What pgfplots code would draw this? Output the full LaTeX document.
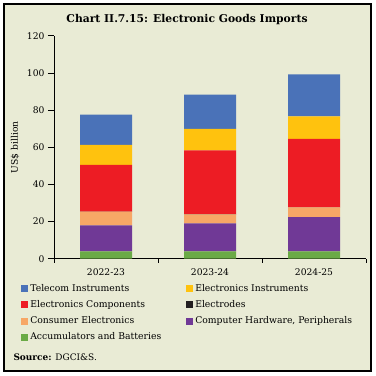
\documentclass[border=0pt]{standalone}
\usepackage{pgfplots}
\pgfplotsset{compat=1.18}
\usepackage{fontspec}
\setmainfont{DejaVu Serif}
\definecolor{bg}{RGB}{233,235,213}
\definecolor{cTel}{RGB}{74,114,184}
\definecolor{cIns}{RGB}{255,194,14}
\definecolor{cCom}{RGB}{237,28,36}
\definecolor{cEle}{RGB}{35,31,32}
\definecolor{cCon}{RGB}{247,167,102}
\definecolor{cHw}{RGB}{112,57,150}
\definecolor{cAcc}{RGB}{106,170,70}
\begin{document}
\begin{tikzpicture}[x=1bp,y=1bp]
\fill[white] (0,0) rectangle (376,376);
\filldraw[fill=bg, draw=black, line width=2bp] (4,5) rectangle (371,372);
\node[font=\bfseries\fontsize{10.8}{12}\selectfont] at (187,356.5) {Chart II.7.15: Electronic Goods Imports};
\node[anchor=west, font=\fontsize{9}{10}\selectfont] at (10,19) {\textbf{Source:} DGCI\&S.};
\begin{axis}[
  at={(54bp,117.3bp)}, anchor=south west,
  scale only axis, width=312bp, height=223bp,
  ybar stacked, bar width=52bp,
  xmin=-0.5, xmax=2.5, ymin=0, ymax=120,
  axis x line*=bottom, axis y line*=left,
  tick align=outside,
  xtick={0,1,2}, xticklabels={2022-23,2023-24,2024-25},
  minor xtick={-0.5,0.5,1.5,2.5},
  major x tick style={draw=none},
  minor tick length=4bp, major tick length=6bp,
  ytick={0,20,...,120},
  tick label style={font=\fontsize{9.2}{10}\selectfont},
  /pgf/number format/assume math mode=true,
  ylabel={US\$ billion},
  ylabel style={at={(axis description cs:-0.125,0.5)}, anchor=center, font=\fontsize{9.2}{10}\selectfont},
  axis line style={black, line width=0.6pt},
  every tick/.style={black, line width=0.6pt},
  reverse legend,
  legend columns=2,
  legend cell align=left,
  legend style={at={(axis description cs:-0.115,-0.097)}, anchor=north west, draw=none, fill=none,
    font=\fontsize{9.3}{10}\selectfont, row sep=3.6bp,
    /tikz/every even column/.append style={column sep=23bp}},
  legend image code/.code={\fill[#1] (0bp,-3.5bp) rectangle (7bp,3.5bp);},
]
\addplot[fill=cAcc, draw=none] coordinates {(0,3.9) (1,3.9) (2,3.9)};
\addlegendentry{Accumulators and Batteries}
\addplot[fill=cHw, draw=none] coordinates {(0,14.0) (1,15.1) (2,18.5)};
\addlegendentry{Computer Hardware, Peripherals}
\addplot[fill=cCon, draw=none] coordinates {(0,7.4) (1,4.9) (2,5.2)};
\addlegendentry{Consumer Electronics}
\addplot[fill=cEle, draw=none] coordinates {(0,0.05) (1,0.05) (2,0.05)};
\addlegendentry{Electrodes}
\addplot[fill=cCom, draw=none] coordinates {(0,25.1) (1,34.4) (2,36.8)};
\addlegendentry{Electronics Components}
\addplot[fill=cIns, draw=none] coordinates {(0,10.8) (1,11.5) (2,12.2)};
\addlegendentry{Electronics Instruments}
\addplot[fill=cTel, draw=none] coordinates {(0,16.3) (1,18.5) (2,22.6)};
\addlegendentry{Telecom Instruments}
\node[white, font=\bfseries\fontsize{10.5}{11}\selectfont] at (axis cs:0,37.9) {25.1};
\node[white, font=\bfseries\fontsize{10.5}{11}\selectfont] at (axis cs:1,41.1) {34.4};
\node[white, font=\bfseries\fontsize{10.5}{11}\selectfont] at (axis cs:2,46.0) {36.8};
\end{axis}
\end{tikzpicture}
\end{document}
